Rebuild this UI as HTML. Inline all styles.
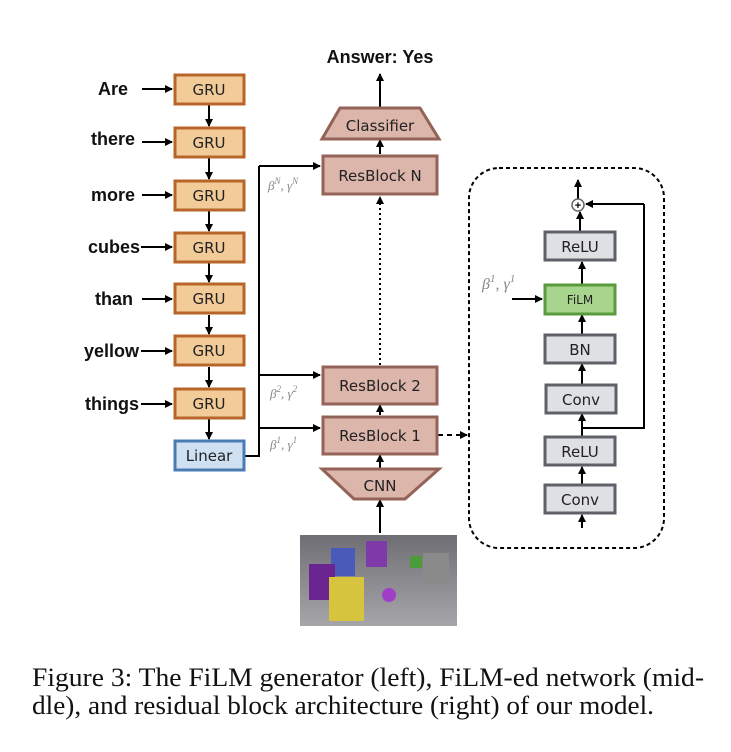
<!DOCTYPE html>
<html><head><meta charset="utf-8"><style>
html,body{margin:0;padding:0;background:#fff;}
svg{display:block;}
.w{font-family:"Liberation Sans",sans-serif;font-weight:bold;font-size:18px;fill:#111;}
.b{font-family:"DejaVu Sans",sans-serif;font-size:15px;fill:#222;}
.m{font-family:"Liberation Serif",serif;font-style:italic;font-size:13px;fill:#888;}
.cap{font-family:"Liberation Serif",serif;font-size:26px;fill:#111;}
</style></head><body>
<svg width="731" height="752" viewBox="0 0 731 752" xmlns="http://www.w3.org/2000/svg">
<defs>
<marker id="a" markerWidth="8" markerHeight="8" refX="7" refY="4" orient="auto" markerUnits="userSpaceOnUse">
<path d="M0,0 L8,4 L0,8 z" fill="#000"/></marker>
<linearGradient id="img" x1="0" y1="0" x2="0" y2="1"><stop offset="0" stop-color="#6e6e74"/><stop offset="1" stop-color="#a6a6aa"/></linearGradient>
</defs>
<g stroke="#000" stroke-width="2" fill="none">
<line x1="142" y1="89" x2="172" y2="89" marker-end="url(#a)"/>
<line x1="142" y1="142" x2="172" y2="142" marker-end="url(#a)"/>
<line x1="142" y1="195" x2="172" y2="195" marker-end="url(#a)"/>
<line x1="141" y1="247" x2="172" y2="247" marker-end="url(#a)"/>
<line x1="142" y1="299" x2="172" y2="299" marker-end="url(#a)"/>
<line x1="141" y1="351" x2="172" y2="351" marker-end="url(#a)"/>
<line x1="141" y1="404" x2="172" y2="404" marker-end="url(#a)"/>
<line x1="209" y1="105" x2="209" y2="126" marker-end="url(#a)"/>
<line x1="209" y1="158" x2="209" y2="179" marker-end="url(#a)"/>
<line x1="209" y1="211" x2="209" y2="231" marker-end="url(#a)"/>
<line x1="209" y1="263" x2="209" y2="282" marker-end="url(#a)"/>
<line x1="209" y1="315" x2="209" y2="334" marker-end="url(#a)"/>
<line x1="209" y1="367" x2="209" y2="387" marker-end="url(#a)"/>
<line x1="209" y1="419" x2="209" y2="439" marker-end="url(#a)"/>
<polyline points="245,456 259,456 259,166"/>
<line x1="259" y1="166" x2="320" y2="166" marker-end="url(#a)"/>
<line x1="259" y1="375" x2="320" y2="375" marker-end="url(#a)"/>
<line x1="259" y1="428" x2="320" y2="428" marker-end="url(#a)"/>
<line x1="380" y1="108" x2="380" y2="74" marker-end="url(#a)"/>
<line x1="380" y1="154" x2="380" y2="140" marker-end="url(#a)"/>
<line x1="380" y1="365" x2="380" y2="197" stroke-dasharray="2,3" marker-end="url(#a)"/>
<line x1="380" y1="415" x2="380" y2="405" marker-end="url(#a)"/>
<line x1="380" y1="468" x2="380" y2="455" marker-end="url(#a)"/>
<line x1="380" y1="533" x2="380" y2="500" marker-end="url(#a)"/>
<line x1="438" y1="435" x2="467" y2="435" stroke-dasharray="5,4" marker-end="url(#a)"/>
<rect x="469" y="168" width="195" height="380" rx="30" stroke-dasharray="4,3"/>
<line x1="582" y1="528" x2="582" y2="515" marker-end="url(#a)"/>
<line x1="582" y1="484" x2="582" y2="467" marker-end="url(#a)"/>
<line x1="582" y1="436" x2="582" y2="414" marker-end="url(#a)"/>
<line x1="582" y1="384" x2="582" y2="364" marker-end="url(#a)"/>
<line x1="582" y1="334" x2="582" y2="315" marker-end="url(#a)"/>
<line x1="582" y1="284" x2="582" y2="262" marker-end="url(#a)"/>
<line x1="580" y1="231" x2="580" y2="212" marker-end="url(#a)"/>
<line x1="578" y1="199" x2="578" y2="180" marker-end="url(#a)"/>
<polyline points="582,428 644,428 644,204"/>
<line x1="644" y1="204" x2="586" y2="204" marker-end="url(#a)"/>
<line x1="512" y1="299" x2="542" y2="299" marker-end="url(#a)"/>
</g>
<g fill="#f2cb98" stroke="#b8652a" stroke-width="3">
<rect x="175" y="75" width="69" height="29"/>
<rect x="175" y="128" width="69" height="29"/>
<rect x="175" y="181" width="69" height="29"/>
<rect x="175" y="233" width="69" height="29"/>
<rect x="175" y="284" width="69" height="29"/>
<rect x="175" y="336" width="69" height="29"/>
<rect x="175" y="389" width="69" height="29"/>
</g>
<rect x="175" y="441" width="69" height="29" fill="#cfe0f3" stroke="#4a7bb3" stroke-width="3"/>
<g class="b" text-anchor="middle">
<text x="209" y="95">GRU</text><text x="209" y="148">GRU</text><text x="209" y="201">GRU</text>
<text x="209" y="253">GRU</text><text x="209" y="304">GRU</text><text x="209" y="356">GRU</text>
<text x="209" y="409">GRU</text><text x="209" y="461">Linear</text>
</g>
<g class="w" text-anchor="end">
<text x="128" y="95">Are</text><text x="135" y="145">there</text><text x="135" y="201">more</text>
<text x="140" y="253">cubes</text><text x="133" y="305">than</text><text x="139" y="357">yellow</text>
<text x="139" y="410">things</text>
</g>
<text x="380" y="63" class="w" text-anchor="middle">Answer: Yes</text>
<g fill="#dcb5ab" stroke="#946358" stroke-width="3">
<polygon points="340,108 420,108 439,139 322,139"/>
<rect x="323" y="156" width="114" height="38"/>
<rect x="323" y="367" width="114" height="37"/>
<rect x="323" y="417" width="114" height="37"/>
<polygon points="322,469 439,469 405,499 354,499"/>
</g>
<g class="b" text-anchor="middle">
<text x="380" y="131">Classifier</text>
<text x="380" y="181">ResBlock N</text>
<text x="380" y="391">ResBlock 2</text>
<text x="380" y="441">ResBlock 1</text>
<text x="380" y="491">CNN</text>
</g>
<g class="m">
<text x="268" y="190">β<tspan font-size="9" dy="-6">N</tspan><tspan dy="6">, γ</tspan><tspan font-size="9" dy="-6">N</tspan></text>
<text x="270" y="398">β<tspan font-size="9" dy="-6">2</tspan><tspan dy="6">, γ</tspan><tspan font-size="9" dy="-6">2</tspan></text>
<text x="270" y="449">β<tspan font-size="9" dy="-6">1</tspan><tspan dy="6">, γ</tspan><tspan font-size="9" dy="-6">1</tspan></text>
<text x="482" y="289" font-size="16">β<tspan font-size="11" dy="-7">1</tspan><tspan dy="7">, γ</tspan><tspan font-size="11" dy="-7">1</tspan></text>
</g>
<rect x="300" y="535" width="157" height="91" fill="url(#img)"/>
<rect x="331" y="548" width="24" height="28" fill="#4a5ab8"/>
<rect x="366" y="541" width="21" height="26" fill="#7d3aa8"/>
<rect x="309" y="564" width="26" height="36" fill="#6b2590"/>
<rect x="329" y="577" width="35" height="44" fill="#d6c43e"/>
<rect x="410" y="556" width="12" height="12" fill="#4c9a3a"/>
<rect x="423" y="553" width="26" height="31" fill="#8a8a8a"/>
<circle cx="389" cy="595" r="7" fill="#a040c8"/>
<g fill="#dfe0e3" stroke="#5e6268" stroke-width="3">
<rect x="545" y="485" width="70" height="28"/>
<rect x="545" y="437" width="70" height="28"/>
<rect x="546" y="385" width="70" height="28"/>
<rect x="545" y="335" width="70" height="28"/>
<rect x="545" y="232" width="70" height="28"/>
</g>
<rect x="545" y="285" width="70" height="29" fill="#a8d58d" stroke="#5a9a3c" stroke-width="3"/>
<g class="b" text-anchor="middle">
<text x="580" y="505">Conv</text><text x="580" y="457">ReLU</text><text x="581" y="405">Conv</text>
<text x="580" y="355">BN</text><text x="580" y="252">ReLU</text>
<text x="580" y="304" font-size="12">FiLM</text>
</g>
<circle cx="578" cy="205" r="6" fill="#fff" stroke="#666" stroke-width="1.5"/>
<text x="578" y="209" text-anchor="middle" font-family="Liberation Sans,sans-serif" font-weight="bold" font-size="11">+</text>
<text x="32" y="686" class="cap" textLength="672" lengthAdjust="spacingAndGlyphs">Figure 3: The FiLM generator (left), FiLM-ed network (mid-</text>
<text x="32" y="714" class="cap" textLength="622" lengthAdjust="spacingAndGlyphs">dle), and residual block architecture (right) of our model.</text>
</svg>
</body></html>
